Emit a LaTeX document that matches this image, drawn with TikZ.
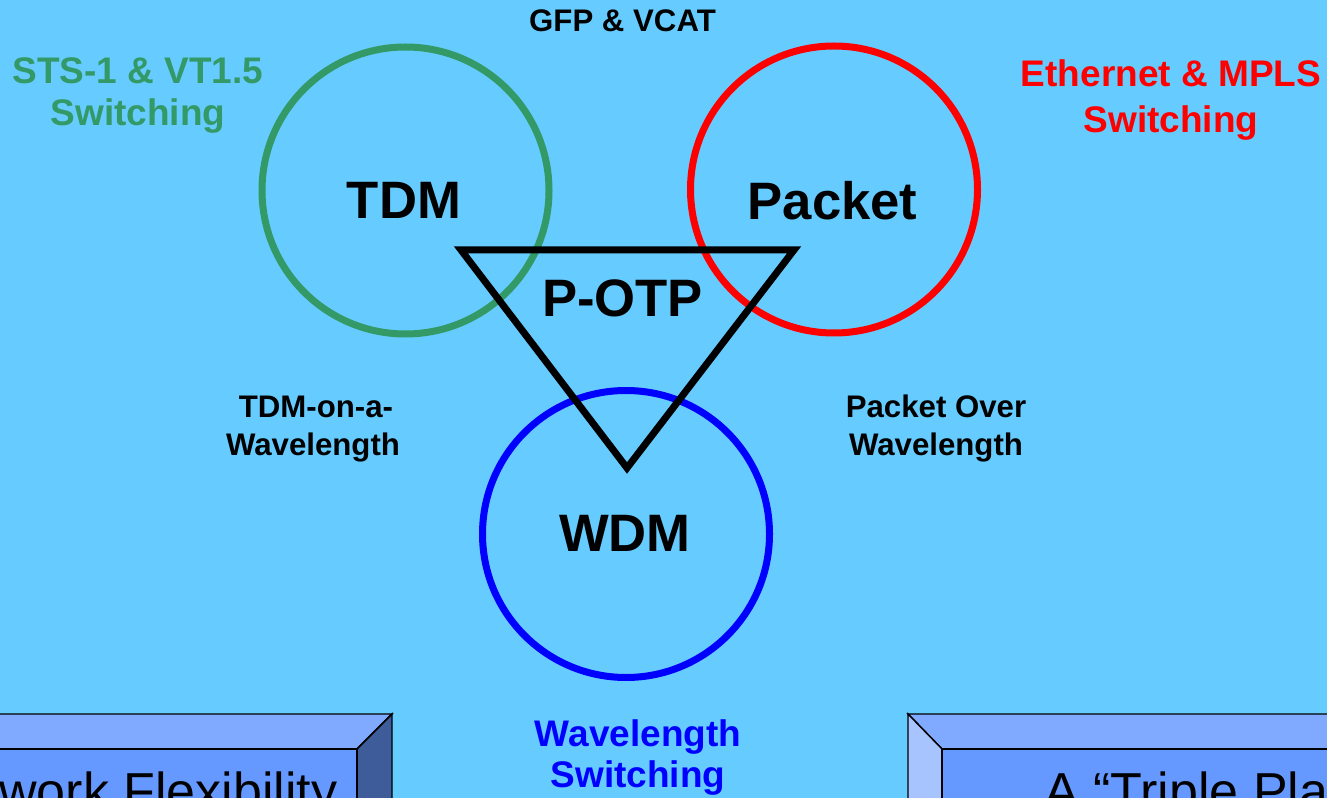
\documentclass[tikz,border=0pt]{standalone}
\usepackage{fontspec}
\setmainfont{Liberation Sans}
\definecolor{slidebg}{HTML}{66CCFF}
\definecolor{tdmgreen}{HTML}{339966}
\definecolor{pktred}{HTML}{FF0000}
\definecolor{wdmblue}{HTML}{0000FF}
\definecolor{boxtop}{HTML}{80AAFF}
\definecolor{boxfront}{HTML}{6699FF}
\definecolor{boxdark}{HTML}{3D5C99}
\definecolor{boxlight}{HTML}{A8C4FF}
\begin{document}
\begin{tikzpicture}[x=0.75pt,y=-0.75pt,
  ring/.style={circle, draw, line width=5.25pt, minimum size=215.25pt, inner sep=0pt},
  tri/.style={draw=black, line width=5.25pt, line join=miter},
  biglabel/.style={font=\fontsize{39.5}{47}\selectfont\bfseries, anchor=base, inner sep=0pt},
  midlabel/.style={font=\fontsize{27.75}{33}\selectfont\bfseries, anchor=base, inner sep=0pt},
  smalllabel/.style={font=\fontsize{23.4}{28}\selectfont\bfseries, anchor=base, inner sep=0pt},
  facet/.style={draw=black, line width=1.1pt, line join=miter},
  boxtext/.style={font=\fontsize{39}{47}\selectfont, anchor=base west, inner sep=0pt}
]
\useasboundingbox (0,0) rectangle (1327,798);
\fill[slidebg] (0,0) rectangle (1327,798);
\clip (0,0) rectangle (1327,798);

% three switching domains
\node[ring, draw=tdmgreen] (tdm) at (405.5,190.5) {};
\node[ring, draw=pktred] (pkt) at (834,189.5) {};
\node[ring, draw=wdmblue] (wdm) at (626,534) {};

% P-OTP triangle
\coordinate (tl) at (461,250);
\coordinate (tr) at (794,250);
\coordinate (tb) at (627,468);
\draw[tri] (tl) -- (tr) -- (tb) -- cycle;

% domain names
\node[biglabel] (tdmname) at (404,219) {TDM};
\node[biglabel] (pktname) at (832.5,220) {Packet};
\node[biglabel] (potp) at (622.5,317) {P-OTP};
\node[biglabel] (wdmname) at (625,551) {WDM};

% switching granularities
\node[midlabel, text=tdmgreen] (stsA) at (138,84) {STS-1 \& VT1.5};
\node[midlabel, text=tdmgreen] (stsB) at (138,126) {Switching};
\node[midlabel, text=pktred] (ethA) at (1171,87) {Ethernet \& MPLS};
\node[midlabel, text=pktred] (ethB) at (1171,133) {Switching};
\node[midlabel, text=wdmblue] (wlA) at (638,746) {Wavelength};
\node[midlabel, text=wdmblue] (wlB) at (638,787) {Switching};

% adaptations between domains
\node[smalllabel] (gfp) at (622.5,32) {GFP \& VCAT};
\node[smalllabel] (towA) at (316,417) {TDM-on-a-};
\node[smalllabel] (towB) at (313,455) {Wavelength};
\node[smalllabel] (powA) at (936,417) {Packet Over};
\node[smalllabel] (powB) at (936,455) {Wavelength};

% bevelled banner, left
\filldraw[facet, fill=boxtop] (-40,714) -- (392,714) -- (357,749) -- (-5,749) -- cycle;
\filldraw[facet, fill=boxdark] (392,714) -- (392,900) -- (357,865) -- (357,749) -- cycle;
\filldraw[facet, fill=boxfront] (-5,749) rectangle (357,865);
\node[boxtext] (flex) at (-1,809) {work Flexibility};

% bevelled banner, right
\filldraw[facet, fill=boxtop] (908,714) -- (1400,714) -- (1365,749) -- (942,749) -- cycle;
\filldraw[facet, fill=boxlight] (908,714) -- (942,749) -- (942,865) -- (908,900) -- cycle;
\filldraw[facet, fill=boxfront] (942,749) rectangle (1365,865);
\node[boxtext] (triple) at (1044,809) {A “Triple Play”};
\end{tikzpicture}
\end{document}
